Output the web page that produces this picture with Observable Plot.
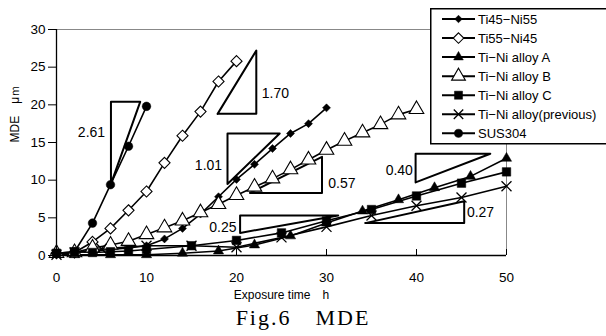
<!DOCTYPE html>
<html><head><meta charset="utf-8">
<script src="https://cdn.jsdelivr.net/npm/d3@7"></script>
<script src="https://cdn.jsdelivr.net/npm/@observablehq/plot@0.6"></script>
<style>
body{margin:0;background:#fff;}
#wrap{position:relative;width:606px;height:336px;overflow:hidden;font-family:"Liberation Sans",Arial,sans-serif;background:#fff;}
#title{position:absolute;left:0;top:305px;width:606px;text-align:center;font-family:"Liberation Serif","DejaVu Serif",serif;font-size:22px;line-height:26px;letter-spacing:2px;}
#legend{position:absolute;left:430px;top:8px;}
</style></head><body>
<div id="wrap"><div id="chart"></div><div id="legend"></div><div id="title">Fig.6　MDE</div></div>
<script>
// ---- data ----
const seriesNames = ["Ti45−Ni55","Ti55−Ni45","Ti−Ni alloy A","Ti−Ni alloy B","Ti−Ni alloy C","Ti−Ni alloy(previous)","SUS304"];
const ti45Ni55X = [0,2,4,6,8,10,12,14,16,18,20,22,24,26,28,30];
const ti45Ni55Y = [0.2,0.4,0.6,0.8,1.0,1.3,2.2,3.6,5.5,7.8,10.1,12.1,14.2,16.2,17.5,19.6];
const ti55Ni45X = [0,2,4,6,8,10,12,14,16,18,20];
const ti55Ni45Y = [0.3,0.4,1.8,3.6,6.0,8.5,12.3,15.9,19.1,23.1,25.8];
const alloyAX = [0,2,6,10,14,18,22,26,30,34,38,42,46,50];
const alloyAY = [0.2,0.1,0.1,0.1,0.3,0.6,1.4,2.6,4.3,5.9,7.4,9.0,10.5,12.9];
const alloyBX = [0,2,4,6,8,10,12,14,16,18,20,22,24,26,28,30,32,34,36,38,40];
const alloyBY = [0.3,0.4,1.0,1.4,1.9,2.8,3.7,4.6,5.7,6.8,8.0,9.1,10.2,11.4,12.7,14.0,15.2,16.3,17.4,18.7,19.4];
const alloyCX = [0,2,4,6,8,10,15,20,25,30,35,40,45,50];
const alloyCY = [0.3,0.5,0.4,0.5,0.6,0.8,1.3,2.0,3.0,4.6,6.1,7.9,9.6,11.1];
const prevX = [0,2,5,10,15,20,25,30,35,40,45,50];
const prevY = [0.1,0.4,0.9,1.3,1.3,1.1,2.4,3.8,5.3,6.6,7.7,9.2];
const sus304X = [0,2,4,6,8,10];
const sus304Y = [0.3,0.5,4.3,9.4,14.5,19.8];
const xTicks = [0,10,20,30,40,50];
const yTicks = [0,5,10,15,20,25,30];
// slope triangles (vertices in data units) and their labels
const slopeLabels = ["2.61","1.70","1.01","0.57","0.25","0.40","0.27"];
const slopeTriX = [[6.05,6.05,9.3],[17.9,22.2,22.2],[19.0,19.0,24.8],[21.5,29.5,29.5],[20.4,20.4,31.3],[39.9,39.9,48.2],[34.3,45.3,45.3]];
const slopeTriY = [[9.5,20.4,20.4],[18.8,27.2,18.8],[9.5,16.2,16.2],[8.3,13.1,8.3],[3.0,5.3,5.3],[9.7,13.5,13.5],[4.3,7.2,4.3]];
const slopeLabelX = [5.4,22.8,18.4,30.2,20.0,39.6,45.6];
const slopeLabelY = [16.3,21.5,12.0,9.6,3.7,11.3,5.7];
const slopeLabelSide = ["end","start","end","start","end","end","start"];

// ---- build tables ----
const seriesData = [
  [ti45Ni55X, ti45Ni55Y],[ti55Ni45X, ti55Ni45Y],[alloyAX, alloyAY],[alloyBX, alloyBY],
  [alloyCX, alloyCY],[prevX, prevY],[sus304X, sus304Y]
];
const styles = [
  {symbol:"diamond2", r:3.6, fill:"black"},
  {symbol:"diamond2", r:5, fill:"white"},
  {symbol:"triangle", r:3.8, fill:"black"},
  {symbol:"triangle", r:5.4, fill:"white"},
  {symbol:"square", r:4.8, fill:"black"},
  {symbol:"times", r:4.6, fill:"none"},
  {symbol:"circle", r:4.3, fill:"black"}
];
const rows = seriesData.map(([xs, ys], i) => xs.map((x, j) => ({series: seriesNames[i], x, y: ys[j]})));
const triRows = slopeTriX.flatMap((xs, i) => [0,1,2,0].map(k => ({id: i, x: xs[k], y: slopeTriY[i][k]})));
const labelRows = slopeLabels.map((t, i) => ({text: t, x: slopeLabelX[i], y: slopeLabelY[i], anchor: slopeLabelSide[i]}));

const marks = [
  Plot.ruleY([30], {stroke: "#888", strokeWidth: 1}),
  Plot.ruleX([50], {stroke: "#888", strokeWidth: 1}),
  Plot.line(triRows, {x: "x", y: "y", z: "id", stroke: "black", strokeWidth: 2, curve: "linear"}),
  Plot.text(labelRows.filter(d => d.anchor === "end"), {x: "x", y: "y", text: "text", textAnchor: "end", fontSize: 14}),
  Plot.text(labelRows.filter(d => d.anchor === "start"), {x: "x", y: "y", text: "text", textAnchor: "start", fontSize: 14})
];
rows.forEach((data, i) => {
  marks.push(Plot.line(data, {x: "x", y: "y", stroke: "black", strokeWidth: 1.6}));
});
rows.forEach((data, i) => {
  const s = styles[i];
  marks.push(Plot.dot(data, {x: "x", y: "y", symbol: s.symbol, r: s.r,
    fill: s.fill, stroke: "black", strokeWidth: s.fill === "white" ? 1.1 : (s.symbol === "times" ? 1.3 : 0.5)}));
});
marks.push(
  Plot.ruleY([0], {stroke: "black", strokeWidth: 1.3}),
  Plot.ruleX([0], {stroke: "black", strokeWidth: 1.3}),
  Plot.axisY({ticks: yTicks, tickSize: 8, tickPadding: 3, label: null, fontSize: 13.5}),
  Plot.axisX({ticks: xTicks, tickSize: 0, tickPadding: 17, label: null, fontSize: 13.5}),
  Plot.axisX({ticks: xTicks, tickSize: 6, dy: -6, label: null, tickFormat: () => ""}),
  Plot.text(["MDE　μｍ"], {frameAnchor: "left", rotate: -90, dx: -41, fontSize: 12}),
  Plot.text(["Exposure time　h"], {frameAnchor: "bottom", dy: 43, fontSize: 12})
);

const chart = Plot.plot({
  width: 606, height: 305,
  marginLeft: 56, marginRight: 100, marginTop: 29, marginBottom: 50,
  x: {domain: [0, 50], ticks: xTicks},
  y: {domain: [0, 30], ticks: yTicks},
  style: {fontFamily: '"Liberation Sans", Arial, sans-serif', color: "black", background: "white", overflow: "visible"},
  marks
});
document.getElementById("chart").appendChild(chart);

// ---- legend ----
const symMap = {diamond2: d3.symbolDiamond2, triangle: d3.symbolTriangle, square: d3.symbolSquare, times: d3.symbolTimes, circle: d3.symbolCircle};
const lg = d3.select("#legend").append("svg").attr("width", 176).attr("height", 137)
  .style("font-family", '"Liberation Sans", Arial, sans-serif');
lg.append("rect").attr("x", 0.75).attr("y", 0.75).attr("width", 190).attr("height", 135)
  .attr("fill", "white").attr("stroke", "black").attr("stroke-width", 1.5);
seriesNames.forEach((name, i) => {
  const y = 11 + i * 19.05, s = styles[i];
  const g = lg.append("g");
  g.append("line").attr("x1", 12).attr("x2", 45).attr("y1", y).attr("y2", y).attr("stroke", "black").attr("stroke-width", 2);
  g.append("path").attr("d", d3.symbol(symMap[s.symbol], Math.PI * s.r * s.r * 0.9)())
    .attr("transform", `translate(28.5,${y})`)
    .attr("fill", s.fill).attr("stroke", "black")
    .attr("stroke-width", s.fill === "white" ? 1.1 : (s.symbol === "times" ? 1.3 : 0.5));
  g.append("text").attr("x", 48).attr("y", y).attr("dy", "0.36em").attr("font-size", 13).text(name);
});
</script>
</body></html>
